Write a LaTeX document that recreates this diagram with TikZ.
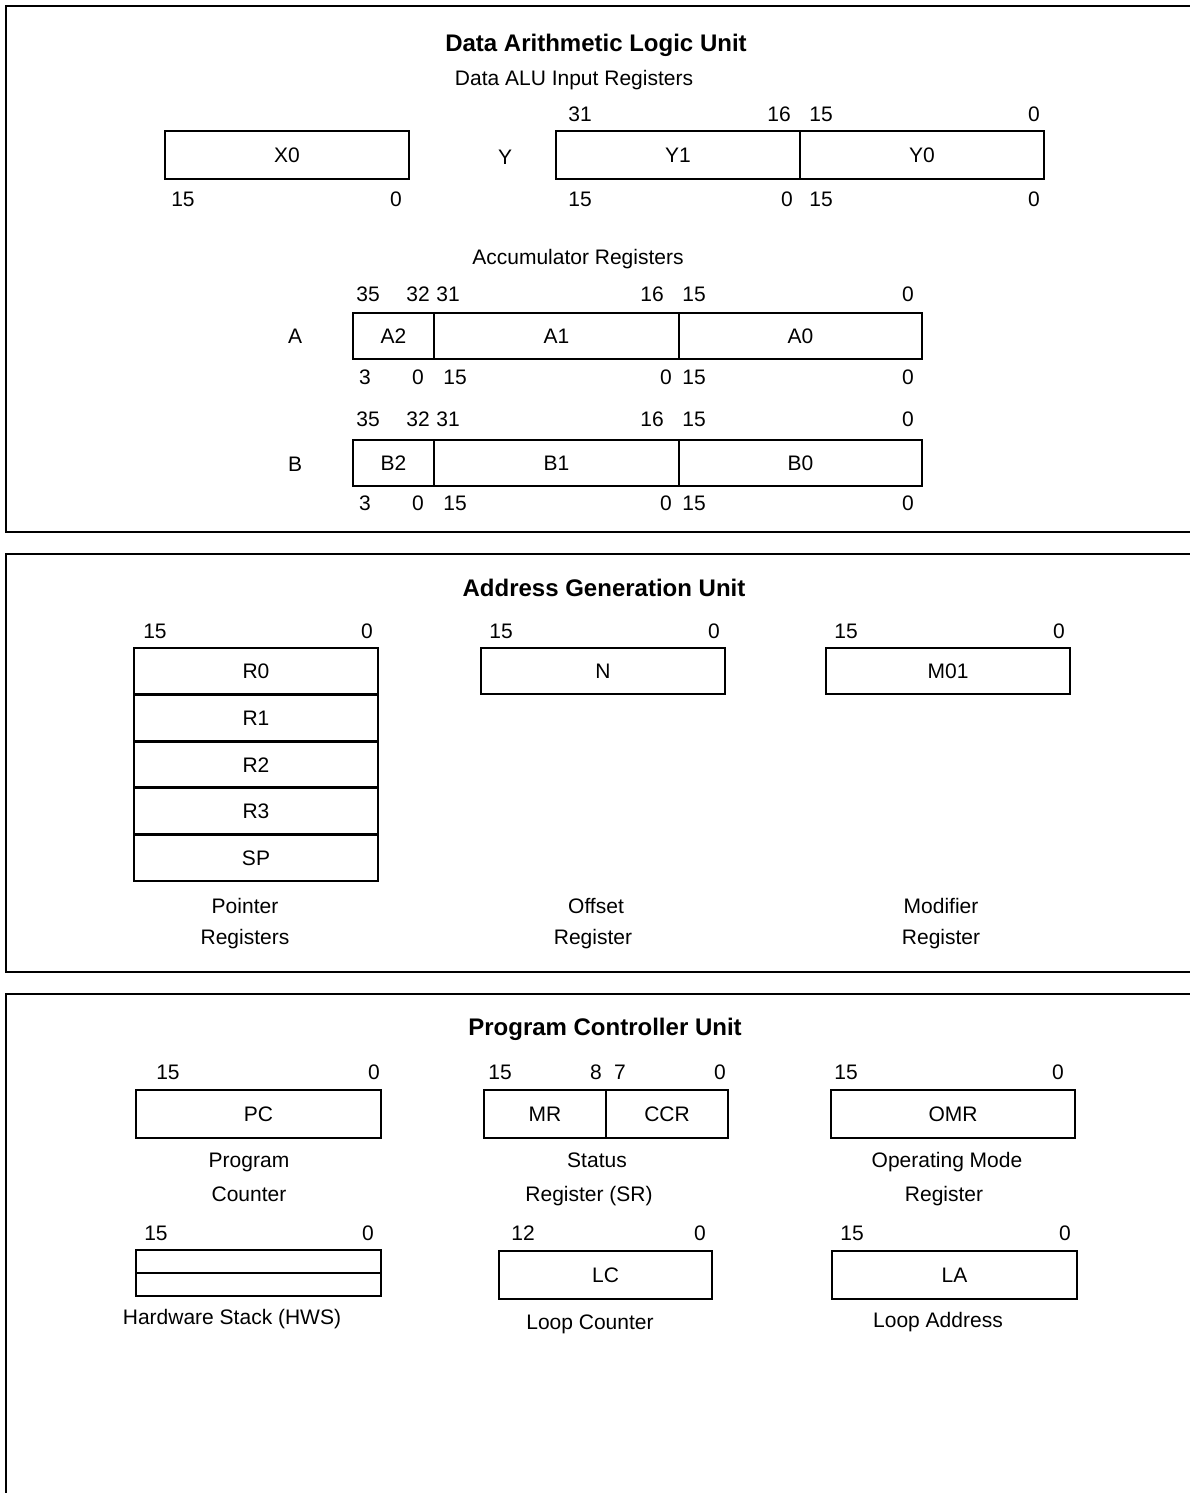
\documentclass[tikz,border=0pt]{standalone}
\usepackage{fontspec}
\setmainfont{Liberation Sans}
\begin{document}
\begin{tikzpicture}[x=1pt,y=-1pt,
  frame/.style={line width=2pt},
  reg/.style={draw, line width=2.8pt, inner sep=0pt, font=\fontsize{21}{25}\selectfont, text height=15pt, text depth=0pt},
  lbl/.style={inner sep=0pt, font=\fontsize{21}{25}\selectfont, text height=15pt, text depth=0pt},
  ttl/.style={inner sep=0pt, font=\fontsize{24}{28}\selectfont\bfseries, text height=17pt, text depth=0pt}]
\useasboundingbox (0,0) rectangle (1190,1493);

% frames
\draw[frame] (1190,6) -- (6,6) -- (6,532) -- (1190,532);
\draw[frame] (1190,554) -- (6,554) -- (6,972) -- (1190,972);
\draw[frame] (1190,994) -- (6,994) -- (6,1493);

% ---------------- Data ALU ----------------
\node[ttl] (t1) at (596,43) {Data Arithmetic Logic Unit};
\node[lbl] (dair) at (574,78) {Data ALU Input Registers};

\node[reg, minimum width=244pt, minimum height=48pt] (x0) at (287,155) {X0};
\node[lbl] (x0l) at (183,199) {15};
\node[lbl] (x0r) at (396,199) {0};

\node[lbl] (ylab) at (505,157) {Y};
\node[reg, minimum width=244pt, minimum height=48pt] (y1) at (678,155) {Y1};
\node[reg, minimum width=244pt, minimum height=48pt] (y0) at (922,155) {Y0};
\node[lbl] (ya1) at (580,114) {31};
\node[lbl] (ya2) at (779,114) {16};
\node[lbl] (ya3) at (821,114) {15};
\node[lbl] (ya4) at (1034,114) {0};
\node[lbl] (yb1) at (580,199) {15};
\node[lbl] (yb2) at (787,199) {0};
\node[lbl] (yb3) at (821,199) {15};
\node[lbl] (yb4) at (1034,199) {0};

\node[lbl] (accr) at (578,257) {Accumulator Registers};

% A
\node[lbl] (alab) at (295,336) {A};
\node[reg, minimum width=81pt, minimum height=46pt] (a2) at (393.5,336) {A2};
\node[reg, minimum width=245pt, minimum height=46pt] (a1) at (556.5,336) {A1};
\node[reg, minimum width=243pt, minimum height=46pt] (a0) at (800.5,336) {A0};
\node[lbl] (aa1) at (368,294) {35};
\node[lbl] (aa2) at (418,294) {32};
\node[lbl] (aa3) at (448,294) {31};
\node[lbl] (aa4) at (652,294) {16};
\node[lbl] (aa5) at (694,294) {15};
\node[lbl] (aa6) at (908,294) {0};
\node[lbl] (ab1) at (365,377) {3};
\node[lbl] (ab2) at (418,377) {0};
\node[lbl] (ab3) at (455,377) {15};
\node[lbl] (ab4) at (666,377) {0};
\node[lbl] (ab5) at (694,377) {15};
\node[lbl] (ab6) at (908,377) {0};

% B
\node[lbl] (blab) at (295,464) {B};
\node[reg, minimum width=81pt, minimum height=46pt] (b2) at (393.5,463) {B2};
\node[reg, minimum width=245pt, minimum height=46pt] (b1) at (556.5,463) {B1};
\node[reg, minimum width=243pt, minimum height=46pt] (b0) at (800.5,463) {B0};
\node[lbl] (ba1) at (368,419) {35};
\node[lbl] (ba2) at (418,419) {32};
\node[lbl] (ba3) at (448,419) {31};
\node[lbl] (ba4) at (652,419) {16};
\node[lbl] (ba5) at (694,419) {15};
\node[lbl] (ba6) at (908,419) {0};
\node[lbl] (bb1) at (365,503) {3};
\node[lbl] (bb2) at (418,503) {0};
\node[lbl] (bb3) at (455,503) {15};
\node[lbl] (bb4) at (666,503) {0};
\node[lbl] (bb5) at (694,503) {15};
\node[lbl] (bb6) at (908,503) {0};

% ---------------- AGU ----------------
\node[ttl] (t2) at (604,588) {Address Generation Unit};

\node[lbl] (pl) at (155,631) {15};
\node[lbl] (pr) at (367,631) {0};
\node[reg, minimum width=244pt, minimum height=46.6pt] (r0) at (256,671.3) {R0};
\node[reg, minimum width=244pt, minimum height=46.6pt] (r1) at (256,717.9) {R1};
\node[reg, minimum width=244pt, minimum height=46.6pt] (r2) at (256,764.5) {R2};
\node[reg, minimum width=244pt, minimum height=46.6pt] (r3) at (256,811.1) {R3};
\node[reg, minimum width=244pt, minimum height=46.6pt] (sp) at (256,857.7) {SP};
\node[lbl] (ptr1) at (245,906) {Pointer};
\node[lbl] (ptr2) at (245,937) {Registers};

\node[lbl] (nl) at (501,631) {15};
\node[lbl] (nr) at (714,631) {0};
\node[reg, minimum width=244pt, minimum height=46pt] (n) at (603,671) {N};
\node[lbl] (off1) at (596,906) {Offset};
\node[lbl] (off2) at (593,937) {Register};

\node[lbl] (ml) at (846,631) {15};
\node[lbl] (mr) at (1059,631) {0};
\node[reg, minimum width=244pt, minimum height=46pt] (m01) at (948,671) {M01};
\node[lbl] (mod1) at (941,906) {Modifier};
\node[lbl] (mod2) at (941,937) {Register};

% ---------------- PCU ----------------
\node[ttl] (t3) at (605,1027) {Program Controller Unit};

\node[lbl] (pcl) at (168,1072) {15};
\node[lbl] (pcr) at (374,1072) {0};
\node[reg, minimum width=245pt, minimum height=48pt] (pc) at (258.5,1114) {PC};
\node[lbl] (pcn1) at (249,1160) {Program};
\node[lbl] (pcn2) at (249,1194) {Counter};

\node[lbl] (srl1) at (500,1072) {15};
\node[lbl] (srl2) at (596,1072) {8};
\node[lbl] (srl3) at (620,1072) {7};
\node[lbl] (srl4) at (720,1072) {0};
\node[reg, minimum width=122pt, minimum height=48pt] (mrr) at (545,1114) {MR};
\node[reg, minimum width=122pt, minimum height=48pt] (ccr) at (667,1114) {CCR};
\node[lbl] (srn1) at (597,1160) {Status};
\node[lbl] (srn2) at (589,1194) {Register (SR)};

\node[lbl] (oml) at (846,1072) {15};
\node[lbl] (omr0) at (1058,1072) {0};
\node[reg, minimum width=244pt, minimum height=48pt] (omr) at (953,1114) {OMR};
\node[lbl] (omn1) at (947,1160) {Operating Mode};
\node[lbl] (omn2) at (944,1194) {Register};

\node[lbl] (hwl) at (156,1233) {15};
\node[lbl] (hwr) at (368,1233) {0};
\node[reg, minimum width=245pt, minimum height=23pt] (hws1) at (258.5,1261.5) {};
\node[reg, minimum width=245pt, minimum height=23pt] (hws2) at (258.5,1284.5) {};
\node[lbl] (hwn) at (232,1317) {Hardware Stack (HWS)};

\node[lbl] (lcl) at (523,1233) {12};
\node[lbl] (lcr) at (700,1233) {0};
\node[reg, minimum width=213pt, minimum height=48pt] (lc) at (605.5,1275) {LC};
\node[lbl] (lcn) at (590,1322) {Loop Counter};

\node[lbl] (lal) at (852,1233) {15};
\node[lbl] (lar) at (1065,1233) {0};
\node[reg, minimum width=245pt, minimum height=48pt] (la) at (954.5,1275) {LA};
\node[lbl] (lan) at (938,1320) {Loop Address};
\end{tikzpicture}
\end{document}
